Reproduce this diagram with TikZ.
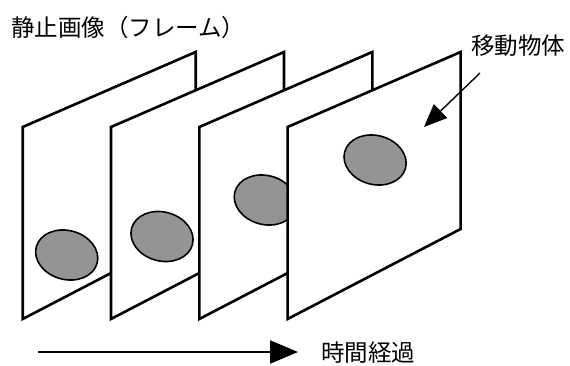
\documentclass[tikz,border=0pt]{standalone}
\usepackage{fontspec}
\newfontfamily\cjk{Noto Sans CJK JP}
\usetikzlibrary{arrows.meta}
\begin{document}
\begin{tikzpicture}[x=1pt,y=-1pt,
  frame/.style={draw=black,fill=white,line width=2.6pt,line join=miter},
  blob/.style={draw=black,fill=black!42,line width=1.6pt},
  lbl/.style={font=\cjk\fontsize{23.5}{27}\selectfont,inner sep=0pt,anchor=west},
  pointer/.style={line width=1.4pt,-{Triangle[length=23pt,width=19pt]}},
  timeline/.style={line width=2.2pt,-{Triangle[length=28pt,width=23pt]}}
]
\useasboundingbox (0,0) rectangle (570,365);
\foreach \i/\ex/\ey in {0/44/255, 1/51/236.5, 2/66/200, 3/87.5/160} {
  \pgfmathsetmacro\xl{22.7+88.3*\i}
  \draw[frame] (\xl,127) -- (\xl+173,52) -- (\xl+173,229) -- (\xl,319) -- cycle;
  \begin{scope}[shift={(\xl+\ex,\ey)},rotate=-15]
    \draw[blob] (0,0) ellipse[x radius=31.5,y radius=24.5];
  \end{scope}
}
\node[lbl] (still) at (11,28) {静止画像（フレーム）};
\node[lbl] (moving) at (471,46) {移動物体};
\node[lbl] (time) at (321,353) {時間経過};
\coordinate (pstart) at (480,73);
\coordinate (ptip) at (424,127);
\draw[pointer] (pstart) -- (ptip);
\coordinate (tstart) at (38,352);
\coordinate (tend) at (298,352);
\draw[timeline] (tstart) -- (tend);
\end{tikzpicture}
\end{document}
